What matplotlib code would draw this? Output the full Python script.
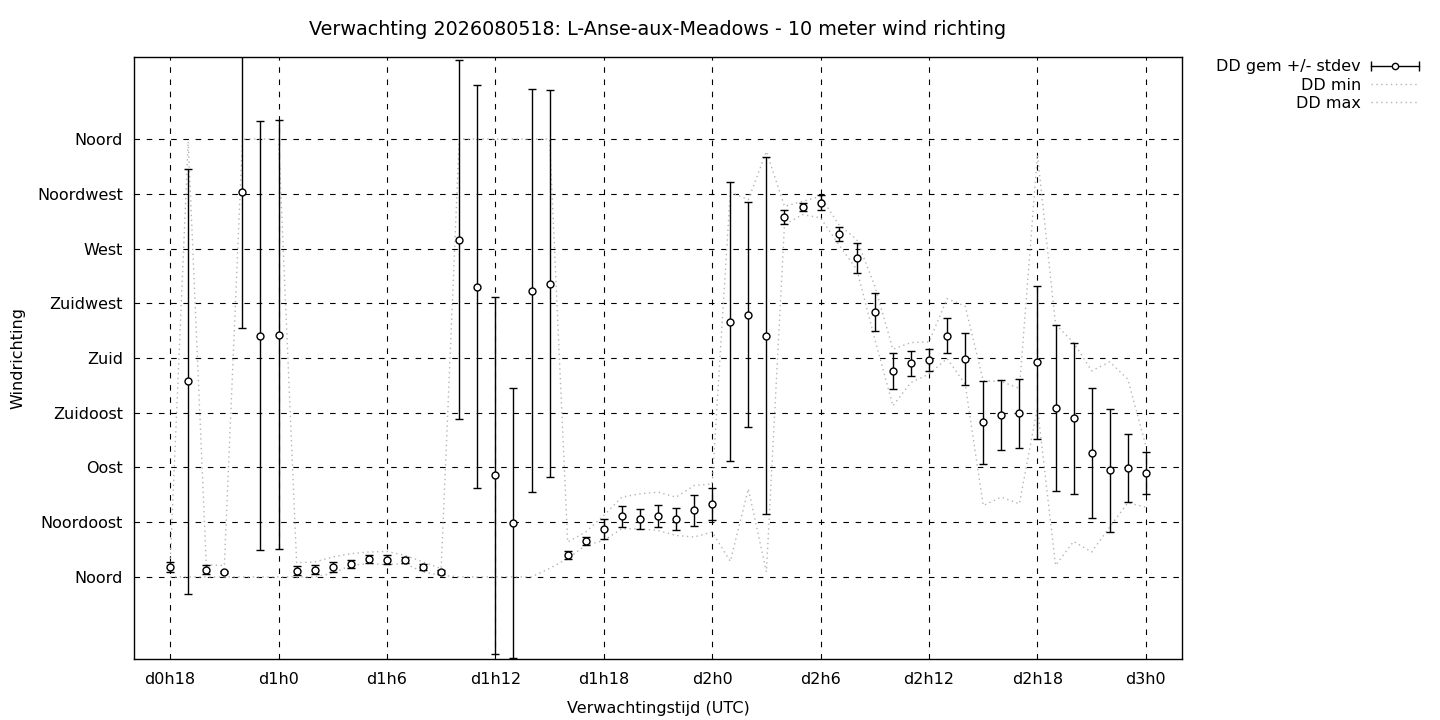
import matplotlib.pyplot as plt
from matplotlib.legend_handler import HandlerBase
from matplotlib.lines import Line2D

# verwachtingsuren (uren na d0h0)
uren = list(range(18, 73))

dd_gem = [8.2, 160.7, 6.0, 4.1, 316.5, 198.5, 199.3, 5.2, 6.0, 8.2,
          10.7, 14.8, 14.2, 13.9, 7.9, 3.8, 277.4, 238.6, 83.6, 44.3,
          235.4, 241.1, 18.0, 29.5, 39.4, 50.0, 47.6, 50.0, 47.6, 54.9,
          59.9, 209.9, 215.7, 198.5, 296.0, 304.3, 307.8, 282.1, 262.4, 218.1,
          169.2, 175.5, 178.2, 198.5, 179.0, 127.1, 133.1, 134.5, 176.3, 138.6,
          130.4, 101.7, 87.7, 89.4, 85.3]
dd_std = [4.2, 174.7, 3.8, 1.0, 111.5, 176.3, 176.0, 3.8, 3.8, 4.1,
          3.4, 3.0, 3.8, 2.7, 2.5, 1.5, 147.4, 165.7, 146.8, 111.2,
          165.9, 159.3, 3.0, 3.6, 8.6, 8.6, 8.4, 9.3, 9.3, 12.8,
          13.1, 114.8, 92.3, 146.8, 5.6, 3.3, 6.2, 6.0, 12.3, 15.6,
          14.8, 10.5, 8.9, 14.4, 21.2, 34.0, 28.4, 28.3, 63.3, 68.2,
          62.0, 53.3, 50.4, 27.9, 17.2]
dd_min = [0, 0, 0, 0, 0, 0, 0, 0, 0, 3,
          9.5, 10.9, 10.1, 10.9, 4.1, 1.3, 0, 0, 0, 0,
          0, 7, 15.0, 25.9, 30.0, 39.6, 39.6, 38.2, 34.1, 32.8,
          36.9, 12.8, 72.4, 4.1, 289.7, 297.9, 295.2, 273.3, 252.8, 195.4,
          140.7, 159.9, 166.7, 179.6, 158.5, 58.7, 65.6, 60.1, 139.4, 9.5,
          29.2, 20.5, 41.0, 60.9, 57.4]
dd_max = [10.9, 358, 10, 9.3, 360, 360, 360, 11.7, 12.3, 16.4,
          19.1, 20.5, 21.0, 17.7, 12.3, 6.8, 360, 360, 360, 360,
          360, 360, 28.7, 36.9, 50.5, 65.6, 68.3, 69.7, 65.6, 75.1,
          76.5, 316.5, 310.2, 349.8, 304.7, 308.8, 312.9, 289.7, 277.4, 239.1,
          187.2, 192.7, 193.2, 228.8, 222.7, 161.2, 160.7, 155.0, 347.1, 207.7,
          192.7, 169.4, 176.8, 162.6, 107.7]

xtick_pos = [18, 24, 30, 36, 42, 48, 54, 60, 66, 72]
xtick_labels = ['d0h18', 'd1h0', 'd1h6', 'd1h12', 'd1h18',
                'd2h0', 'd2h6', 'd2h12', 'd2h18', 'd3h0']
ytick_pos = [0, 45, 90, 135, 180, 225, 270, 315, 360]
ytick_labels = ['Noord', 'Noordoost', 'Oost', 'Zuidoost', 'Zuid',
                'Zuidwest', 'West', 'Noordwest', 'Noord']


class CapLine(HandlerBase):
    # gnuplot-achtig legendasymbool: lijn met kapjes en een open rondje
    def create_artists(self, legend, orig_handle, xdescent, ydescent,
                       width, height, fontsize, trans):
        y = height / 2 - ydescent
        x0, x1 = -xdescent, width - xdescent
        line = Line2D([x0, x1], [y, y], color='black', lw=1, transform=trans)
        caps = Line2D([x0, x1], [y, y], ls='none', marker='|', ms=7,
                      color='black', mew=1, transform=trans)
        dot = Line2D([(x0 + x1) / 2], [y], ls='none', marker='o', ms=4.5,
                     mfc='white', mec='black', mew=1, transform=trans)
        return [line, caps, dot]


plt.rcParams['font.family'] = 'DejaVu Sans'
plt.rcParams['font.size'] = 11.5

fig = plt.figure(figsize=(14.4, 7.2), dpi=100)
ax = fig.add_axes([134 / 1440, 61 / 720, 1048 / 1440, 602 / 720])

grey = '#b4b4b4'
ax.plot(uren, dd_min, color=grey, lw=1, ls=(0, (1, 2.5)), label='DD min')
ax.plot(uren, dd_max, color=grey, lw=1, ls=(0, (1, 2.5)), label='DD max')
eb = ax.errorbar(uren, dd_gem, yerr=dd_std, fmt='o', color='black',
                 ecolor='black', elinewidth=1, capsize=3, capthick=1,
                 ms=5, mfc='white', mec='black', mew=1,
                 label='DD gem +/- stdev')

ax.set_xlim(16, 74)
ax.set_ylim(-67.5, 427.5)
ax.set_xticks(xtick_pos, xtick_labels)
ax.set_yticks(ytick_pos, ytick_labels)
ax.grid(True, color='black', lw=0.8, ls=(0, (5, 6)))
ax.tick_params(direction='in', length=0)
ax.tick_params(axis='x', pad=9.5)
ax.tick_params(axis='y', pad=8)
for s in ax.spines.values():
    s.set_linewidth(1)

ax.set_xlabel('Verwachtingstijd (UTC)', labelpad=10)
ax.set_ylabel('Windrichting', labelpad=8)
ax.set_title('Verwachting 2026080518: L-Anse-aux-Meadows - 10 meter wind richting',
             pad=15.5)

h, l = ax.get_legend_handles_labels()
order = [2, 0, 1]
fig.legend([h[i] for i in order], [l[i] for i in order],
           loc='upper right', bbox_to_anchor=(1425 / 1440, 1 - 53 / 720),
           frameon=False, markerfirst=False, handlelength=3.0,
           handletextpad=0.6, labelspacing=0.2, borderaxespad=0,
           handler_map={type(eb): CapLine()})

fig.savefig('out.png', dpi=100)
